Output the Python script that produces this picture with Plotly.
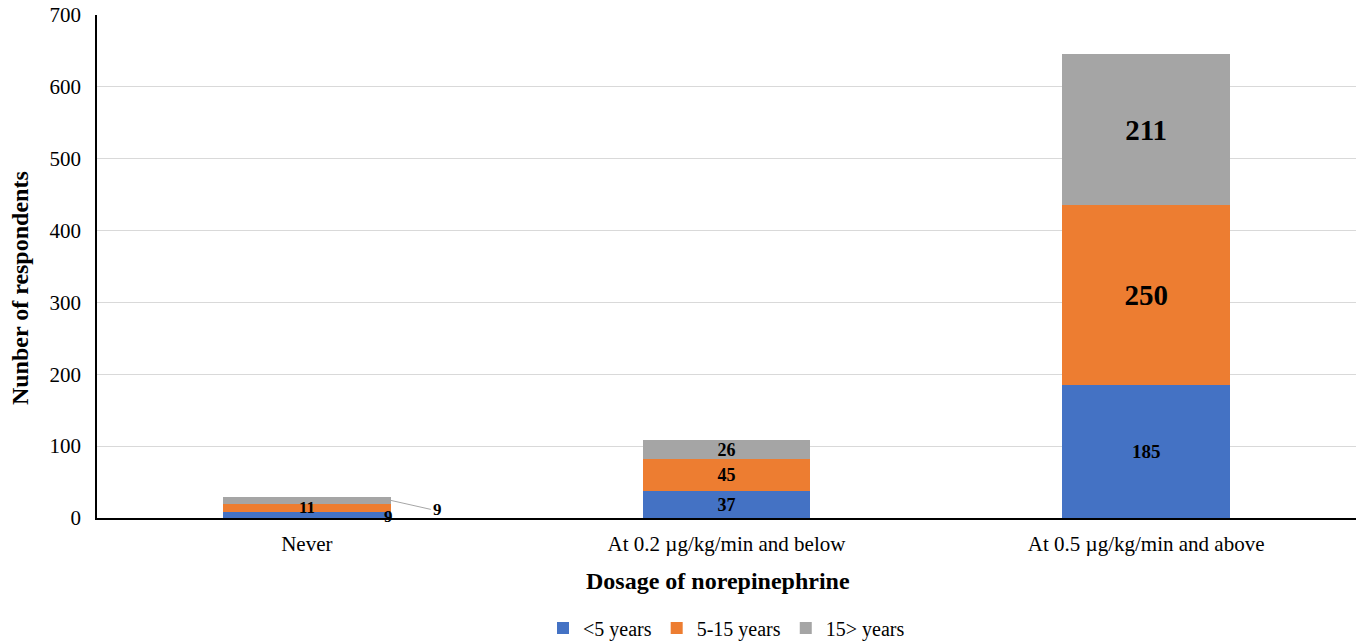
import plotly.graph_objects as go

categories = ["Never", "At 0.2 µg/kg/min and below", "At 0.5 µg/kg/min and above"]
under5 = [9, 37, 185]
mid5_15 = [11, 45, 250]
over15 = [9, 26, 211]
series_names = ["<5 years", "5-15 years", "15> years"]
colors = ["#4472C4", "#ED7D31", "#A5A5A5"]
y_ticks = [0, 100, 200, 300, 400, 500, 600, 700]
x_title = "Dosage of norepinephrine"
y_title = "Nunber of respondents"

FONT = "Liberation Serif"

fig = go.Figure()

# label sizes per bar; the first category is labelled by annotations instead
label_sizes = {
    "<5 years": [18, 18, 19],
    "5-15 years": [18, 18, 29],
    "15> years": [18, 18, 29],
}

for name, vals, col in zip(series_names, [under5, mid5_15, over15], colors):
    texts = [""] + [str(v) for v in vals[1:]]
    fig.add_trace(go.Bar(
        name=name,
        x=categories,
        y=vals,
        marker=dict(color=col, line=dict(width=0)),
        text=texts,
        texttemplate="<b>%{text}</b>",
        textposition="inside",
        insidetextanchor="middle",
        constraintext="none",
        textangle=0,
        textfont=dict(family=FONT, size=label_sizes[name], color="black"),
        hoverinfo="x+y+name",
    ))

# labels for the small "Never" stack
fig.add_annotation(x=categories[0], y=under5[0] + mid5_15[0] / 2,
                   text=f"<b>{mid5_15[0]}</b>", showarrow=False,
                   font=dict(family=FONT, size=17, color="black"))
fig.add_annotation(x=categories[0], y=under5[0] / 2, xshift=82, yshift=-2,
                   text=f"<b>{under5[0]}</b>", showarrow=False,
                   font=dict(family=FONT, size=17, color="black"))
fig.add_annotation(x=0.2, y=under5[0] + mid5_15[0] + over15[0] / 2,
                   text=f"<b>{over15[0]}</b>", showarrow=True,
                   arrowhead=0, arrowwidth=1, arrowcolor="#A6A6A6",
                   ax=40, ay=9, xanchor="left",
                   font=dict(family=FONT, size=17, color="black"))

# axis titles
fig.add_annotation(xref="paper", yref="paper", x=0.493, y=-0.1252,
                   text=f"<b>{x_title}</b>", showarrow=False,
                   xanchor="center", yanchor="middle",
                   font=dict(family=FONT, size=24, color="black"))
fig.add_annotation(xref="paper", yref="paper", x=-0.0612, y=0.457,
                   text=f"<b>{y_title}</b>", showarrow=False, textangle=-90,
                   xanchor="center", yanchor="middle",
                   font=dict(family=FONT, size=24, color="black"))

fig.update_layout(
    barmode="stack",
    bargap=0.6,
    width=1359,
    height=642,
    margin=dict(l=97, r=3, t=15, b=124, autoexpand=False),
    plot_bgcolor="white",
    paper_bgcolor="white",
    font=dict(family=FONT, size=18, color="black"),
    legend=dict(orientation="h", x=0.5, xanchor="center", y=-0.18, yanchor="top",
                font=dict(family=FONT, size=20), traceorder="normal",
                itemwidth=30, tracegroupgap=0),
    xaxis=dict(
        showline=True, linecolor="black", linewidth=1.5,
        tickfont=dict(family=FONT, size=21),
        ticks="", ticklabelstandoff=6,
        automargin=False,
    ),
    yaxis=dict(
        range=[0, 700],
        tickvals=y_ticks,
        showline=True, linecolor="black", linewidth=1.5,
        showgrid=True, gridcolor="#D9D9D9", gridwidth=1,
        tickfont=dict(family=FONT, size=21),
        zeroline=False,
        ticks="", ticklabelstandoff=10,
        automargin=False,
    ),
)

fig.write_html("out.html")
